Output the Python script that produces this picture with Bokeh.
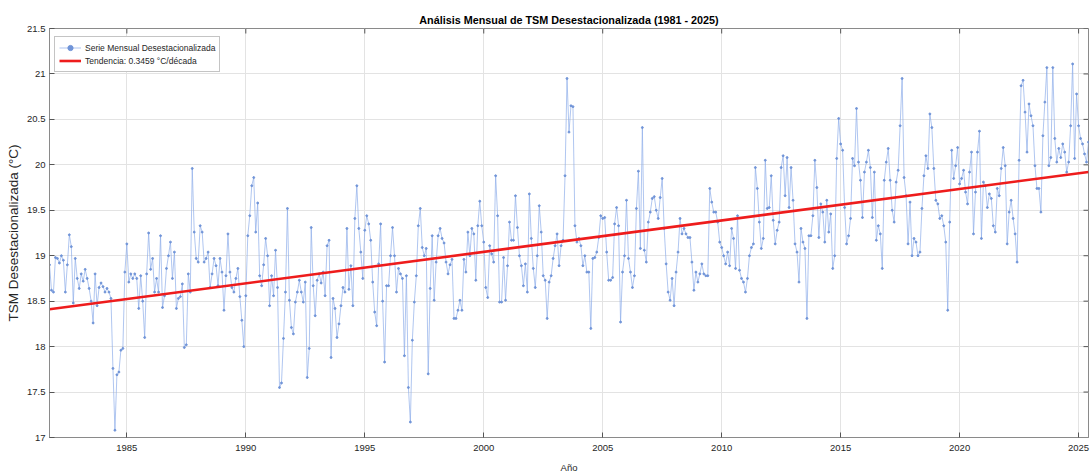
import numpy as np
from bokeh.plotting import figure
from bokeh.models import Range1d, FixedTicker
from bokeh.embed import file_html
from bokeh.resources import INLINE

# ---------------- data ----------------
start_year = 1981
start_month = 10          # first monthly value: October 1981

tsm_1981 = [18.9, 18.62]
tsm_1982_1985 = [
    18.6, 18.98, 18.97, 18.92, 19.0, 18.95, 18.6, 18.9, 19.23, 19.1, 18.48, 18.97,
    18.75, 18.64, 18.8, 18.72, 18.85, 18.75, 18.64, 18.5, 18.26, 18.8, 18.45, 18.65,
    18.7, 18.66, 18.6, 18.64, 18.6, 18.53, 17.76, 17.08, 17.69, 17.72, 17.96, 17.98,
    18.82, 19.13, 18.71, 18.8, 18.75, 18.8, 18.75, 18.42, 18.78, 18.5, 18.1, 18.8,
]
tsm_1986_1990 = [
    19.25, 18.85, 18.97, 18.6, 18.75, 18.6, 19.22, 18.43, 18.56, 18.86, 19.0, 19.15,
    18.75, 19.04, 18.42, 18.53, 18.55, 18.69, 17.99, 18.02, 18.8, 18.6, 19.96, 19.26,
    18.97, 18.93, 19.33, 19.26, 18.93, 18.97, 19.04, 18.65, 18.8, 18.97, 18.89, 18.67,
    18.97, 18.82, 18.4, 18.78, 19.24, 18.82, 18.65, 18.6, 18.75, 18.86, 18.55, 18.29,
    18.0, 18.56, 19.22, 19.44, 19.77, 19.86, 19.26, 19.58, 18.78, 18.67, 18.9, 19.19,
]
tsm_1991_1995 = [
    19.0, 18.45, 18.78, 18.56, 19.06, 18.65, 17.55, 17.6, 18.09, 18.6, 19.52, 18.51,
    18.21, 18.14, 18.49, 18.6, 18.73, 18.6, 18.49, 18.71, 17.66, 17.98, 19.31, 18.67,
    18.34, 18.73, 18.8, 18.7, 18.82, 18.56, 19.11, 19.17, 17.88, 18.53, 18.42, 18.1,
    18.25, 18.45, 18.65, 18.6, 19.3, 18.63, 18.89, 18.45, 19.41, 19.77, 19.3, 19.04,
    18.75, 19.28, 19.44, 19.35, 19.17, 18.71, 18.38, 18.23, 18.91, 19.35, 18.5, 17.83,
]
tsm_1996_2000 = [
    18.67, 18.67, 19.0, 19.31, 19.0, 18.6, 18.86, 18.8, 18.75, 17.9, 18.78, 17.55,
    17.17, 18.07, 18.49, 18.78, 19.33, 19.52, 19.09, 19.0, 19.08, 17.7, 18.64, 19.22,
    18.51, 18.93, 19.22, 19.3, 19.19, 19.14, 18.93, 18.8, 18.9, 18.96, 18.31, 18.31,
    18.4, 18.51, 18.4, 18.96, 18.82, 19.26, 19.0, 19.3, 19.24, 18.73, 19.33, 19.6,
    19.33, 19.15, 18.65, 18.54, 19.11, 19.02, 18.93, 19.88, 19.44, 18.49, 18.49, 18.98,
]
tsm_2001_2005 = [
    18.51, 18.89, 19.37, 19.17, 19.17, 19.66, 19.31, 19.0, 18.89, 18.67, 18.91, 18.6,
    19.68, 19.19, 18.86, 18.65, 19.0, 19.55, 19.26, 18.78, 18.73, 18.31, 18.71, 18.78,
    18.97, 19.11, 19.24, 18.89, 19.11, 19.17, 19.88, 20.95, 20.36, 20.65, 20.64, 19.33,
    19.15, 19.19, 19.11, 18.89, 19.0, 18.82, 18.82, 18.2, 18.97, 18.98, 19.04, 19.2,
    19.44, 19.41, 19.42, 19.04, 18.73, 18.73, 18.76, 19.35, 19.53, 19.33, 18.27, 18.82,
]
tsm_2006_2010 = [
    19.0, 19.61, 18.97, 18.82, 18.65, 18.78, 19.52, 19.93, 19.08, 20.41, 19.06, 18.93,
    19.37, 19.48, 19.63, 19.65, 19.5, 19.41, 19.64, 19.85, 19.3, 18.91, 18.6, 18.51,
    18.75, 18.45, 18.82, 19.04, 19.41, 19.24, 19.3, 19.24, 19.2, 19.2, 18.93, 18.62,
    18.82, 18.71, 18.8, 18.91, 18.8, 18.78, 18.78, 19.74, 19.59, 19.48, 19.48, 19.37,
    19.15, 19.09, 19.0, 18.91, 19.04, 18.89, 19.3, 19.19, 18.86, 19.44, 18.84, 18.75,
]
tsm_2011_2015 = [
    18.71, 18.6, 18.75, 19.0, 19.09, 19.13, 19.97, 19.74, 19.37, 19.08, 19.19, 20.05,
    19.52, 19.53, 19.88, 19.39, 19.13, 19.28, 19.37, 19.97, 20.10, 19.66, 20.08, 19.53,
    19.97, 19.61, 19.13, 19.04, 18.71, 19.3, 19.15, 19.08, 18.31, 19.22, 19.22, 19.44,
    20.05, 19.75, 19.2, 19.57, 19.48, 19.15, 19.61, 19.26, 19.46, 18.86, 19.0, 20.07,
    20.51, 20.23, 20.16, 19.53, 19.13, 19.22, 19.41, 20.07, 19.99, 20.62, 20.03, 19.83,
]
tsm_2016_2020 = [
    19.42, 19.92, 20.03, 20.16, 19.97, 19.42, 19.92, 19.17, 19.33, 19.24, 18.86, 19.83,
    20.03, 20.18, 19.83, 19.5, 19.37, 19.81, 19.94, 20.43, 20.95, 19.86, 19.66, 19.13,
    19.59, 19.0, 19.19, 19.15, 19.0, 19.04, 19.52, 19.88, 20.10, 19.96, 20.56, 20.41,
    19.96, 19.61, 19.57, 19.41, 19.44, 19.33, 19.15, 18.4, 19.37, 20.16, 19.85, 19.99,
    20.19, 19.79, 19.85, 19.94, 19.7, 19.57, 19.92, 20.14, 19.24, 19.7, 20.14, 20.37,
]
tsm_2021_2025 = [
    19.19, 19.81, 19.77, 19.53, 19.68, 19.63, 19.33, 19.26, 19.74, 19.66, 19.96, 20.19,
    19.99, 19.13, 19.48, 19.61, 19.41, 19.24, 18.93, 20.05, 20.87, 20.93, 20.58, 20.14,
    20.67, 20.54, 20.43, 19.99, 19.74, 19.74, 19.48, 20.32, 20.69, 21.07, 19.99, 20.08,
    21.07, 20.29, 20.03, 20.18, 20.08, 20.23, 20.14, 19.92, 20.03, 20.43, 21.11, 20.07,
    20.78, 20.43, 20.29, 20.23, 20.12, 20.03, 20.25,
]

trend_per_decade = 0.3459          # °C per decade (from the legend)

title_text = "Análisis Mensual de TSM Desestacionalizada (1981 - 2025)"
series_label = "Serie Mensual Desestacionalizada"
trend_label = "Tendencia: 0.3459 °C/década"
x_label = "Año"
y_label = "TSM Desestacionalizada (°C)"

x_ticks = [1985, 1990, 1995, 2000, 2005, 2010, 2015, 2020, 2025]
y_ticks = [17, 17.5, 18, 18.5, 19, 19.5, 20, 20.5, 21, 21.5]
y_tick_labels = ["17", "17.5", "18", "18.5", "19", "19.5", "20", "20.5", "21", "21.5"]

# ---------------- build ----------------
values = np.array(tsm_1981 + tsm_1982_1985 + tsm_1986_1990 + tsm_1991_1995 +
                  tsm_1996_2000 + tsm_2001_2005 + tsm_2006_2010 + tsm_2011_2015 +
                  tsm_2016_2020 + tsm_2021_2025)
t = start_year + (start_month - 1) / 12.0 + np.arange(len(values)) / 12.0

slope = trend_per_decade / 10.0
t_end = np.array([t[0], t[-1]])
trend = values.mean() + slope * (t_end - t.mean())

FONT = "Liberation Sans"
W, H = 1090, 476
BL, BR, BT, BB = 49, 2, 28, 39
frame_w, frame_h = W - BL - BR, H - BT - BB
y0, y1 = y_ticks[0], y_ticks[-1]

p = figure(width=W, height=H,
           x_range=Range1d(t[0], t[-1]), y_range=Range1d(y0, y1),
           output_backend="svg", toolbar_location=None,
           min_border_left=BL, min_border_right=BR,
           min_border_top=BT, min_border_bottom=BB)

p.title.text = title_text
p.title.align = "center"
p.title.text_font = FONT
p.title.text_font_size = "10.8px"
p.title.text_font_style = "bold"
p.title.text_color = "#000000"
p.title.standoff = 5

p.background_fill_color = "white"
p.border_fill_color = "white"
p.outline_line_color = "#8a8a8a"
p.outline_line_width = 1

for ax in (p.xaxis[0], p.yaxis[0]):
    ax.major_tick_in = 5
    ax.major_tick_out = 0
    ax.minor_tick_line_color = None
    ax.major_tick_line_color = "#555555"
    ax.axis_line_color = "#8a8a8a"
    ax.major_label_text_font = FONT
    ax.major_label_text_font_size = "9.5px"
    ax.major_label_text_color = "#262626"
    ax.axis_label_text_font_style = "normal"
    ax.axis_label_text_color = "#262626"

p.xaxis.ticker = FixedTicker(ticks=x_ticks)
p.yaxis.ticker = FixedTicker(ticks=y_ticks)
p.yaxis.major_label_overrides = {v: s for v, s in zip(y_ticks, y_tick_labels)}
p.xaxis.major_label_standoff = 7
p.yaxis.major_label_standoff = 4
p.xaxis.axis_label = x_label
p.xaxis.axis_label_text_font = FONT
p.xaxis.axis_label_text_font_size = "9.5px"
p.xaxis.axis_label_standoff = 8
p.yaxis.axis_label = y_label
p.yaxis.axis_label_text_font = FONT
p.yaxis.axis_label_text_font_size = "13.5px"
p.yaxis.axis_label_standoff = 3

p.xgrid.grid_line_color = "#e3e3e3"
p.ygrid.grid_line_color = "#e3e3e3"
p.xgrid.grid_line_width = 1
p.ygrid.grid_line_width = 1

# inward tick marks on the top and right sides of the box (like the reference)
tick_px = 5
dy = tick_px * (y1 - y0) / frame_h
dx = tick_px * (t[-1] - t[0]) / frame_w
xt = np.array(x_ticks, dtype=float)
yt = np.array(y_ticks, dtype=float)
p.segment(x0=xt, y0=np.full(len(xt), y1), x1=xt, y1=np.full(len(xt), y1 - dy),
          line_color="#555555", line_width=1)
p.segment(x0=np.full(len(yt), t[-1]), y0=yt, x1=np.full(len(yt), t[-1] - dx), y1=yt,
          line_color="#555555", line_width=1)

p.line(t, values, line_color="#8eaeea", line_width=0.7, legend_label=series_label)
p.scatter(t, values, size=1.9, marker="circle", fill_color="#7094d8",
          line_color="#7094d8", legend_label=series_label)
p.line(t_end, trend, line_color="#ee1c1c", line_width=2.6, legend_label=trend_label)

lg = p.legend[0]
lg.location = (5, frame_h - 10 - 34)
lg.margin = 0
lg.padding = 4
lg.spacing = 0
lg.glyph_width = 22
lg.glyph_height = 13
lg.label_height = 13
lg.label_standoff = 4
lg.label_text_font = FONT
lg.label_text_font_size = "8.5px"
lg.label_text_color = "#262626"
lg.border_line_color = "#8a8a8a"
lg.border_line_width = 1
lg.background_fill_color = "white"
lg.background_fill_alpha = 1.0

open("out.html", "w").write(file_html(p, INLINE))
